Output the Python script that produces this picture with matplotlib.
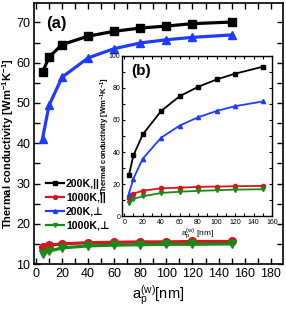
"""Thermal conductivity vs a_p^(w): main panel (a) with inset (b)."""

import matplotlib

matplotlib.use("Agg")
import matplotlib.pyplot as plt  # noqa: E402
from matplotlib.ticker import MultipleLocator  # noqa: E402

plt.rcParams["font.family"] = ["Liberation Sans", "DejaVu Sans"]
plt.rcParams["mathtext.fontset"] = "custom"
plt.rcParams["mathtext.rm"] = "Liberation Sans"
plt.rcParams["mathtext.it"] = "Liberation Sans"
plt.rcParams["mathtext.bf"] = "Liberation Sans:bold"

# main panel (a)
x_nm = [5, 10, 20, 40, 60, 80, 100, 120, 150]
k200_par = [57.6, 61.4, 64.5, 66.6, 67.8, 68.6, 69.1, 69.7, 70.1]
k1000_par = [14.2, 14.7, 15.0, 15.3, 15.4, 15.5, 15.5, 15.6, 15.6]
k200_perp = [41.1, 49.4, 56.4, 61.2, 63.5, 64.9, 65.7, 66.3, 66.9]
k1000_perp = [12.4, 13.2, 14.0, 14.5, 14.7, 14.8, 14.9, 14.9, 15.0]

# inset (b)
x_in = [5, 10, 20, 40, 60, 80, 100, 120, 150]
in200_par = [25.6, 38.0, 51.0, 65.6, 74.8, 80.6, 85.2, 88.8, 93.1]
in1000_par = [11.7, 14.2, 16.0, 17.5, 17.9, 18.4, 18.6, 18.8, 19.0]
in200_perp = [14.2, 23.6, 35.9, 49.0, 56.5, 61.7, 65.6, 68.6, 71.5]
in1000_perp = [8.3, 11.0, 12.5, 14.6, 15.4, 15.9, 16.3, 16.7, 16.9]

labels = ["200K,||", "1000K,||", "200K,\u22a5", "1000K,\u22a5"]

BLACK = "#000000"
RED = "#d8141c"
BLUE = "#1e3cff"
GREEN = "#178a17"

fig = plt.figure(figsize=(2.86, 3.11), dpi=100)
ax = fig.add_axes([0.119, 0.151, 0.871, 0.839])

series = [
    (k200_par, BLACK, "s", labels[0]),
    (k1000_par, RED, "o", labels[1]),
    (k200_perp, BLUE, "^", labels[2]),
    (k1000_perp, GREEN, "v", labels[3]),
]
for ys, c, m, lab in series:
    ax.plot(x_nm, ys, color=c, marker=m, markersize=5.5, linewidth=2.3, label=lab)

ax.set_xlim(-1.5, 189.5)
ax.set_ylim(10, 74.8)
ax.xaxis.set_major_locator(MultipleLocator(20))
ax.xaxis.set_minor_locator(MultipleLocator(10))
ax.yaxis.set_major_locator(MultipleLocator(10))
ax.yaxis.set_minor_locator(MultipleLocator(5))
ax.tick_params(which="both", direction="in", top=True, right=True, labelsize=9,
               width=1, length=4, pad=2.5)
for s in ax.spines.values():
    s.set_linewidth(1.2)
ax.set_ylabel(r"Thermal conductivity [Wm$^{\mathbf{-1}}$K$^{\mathbf{-1}}$]",
              fontsize=8, fontweight="bold")
ax.yaxis.set_label_coords(-0.074, 0.46)
ax.set_xlabel(r"a$_\mathrm{p}^\mathrm{(w)}$[nm]", fontsize=10.5, labelpad=3)

ax.text(0.05, 0.95, "(a)", transform=ax.transAxes, fontsize=12,
        fontweight="bold", va="top", ha="left")

leg = ax.legend(loc="upper left", bbox_to_anchor=(0.048, 0.327), frameon=False,
                markerscale=0.5, handlelength=1.7, handletextpad=0.2,
                labelspacing=0.38, borderaxespad=0.0, borderpad=0.0,
                prop={"weight": "bold", "size": 7.6})
for h in leg.legend_handles:
    h.set_linewidth(1.6)

# inset (b)
ins = fig.add_axes([0.428, 0.304, 0.523, 0.517])
inset_series = [
    (in200_par, BLACK, "s"),
    (in1000_par, RED, "o"),
    (in200_perp, BLUE, "^"),
    (in1000_perp, GREEN, "v"),
]
for ys, c, m in inset_series:
    ins.plot(x_in, ys, color=c, marker=m, markersize=3, linewidth=1.3)

ins.set_xlim(-2, 160)
ins.set_ylim(0, 100)
ins.xaxis.set_major_locator(MultipleLocator(20))
ins.xaxis.set_minor_locator(MultipleLocator(10))
ins.yaxis.set_major_locator(MultipleLocator(20))
ins.yaxis.set_minor_locator(MultipleLocator(10))
ins.tick_params(which="both", direction="in", top=True, right=True, labelsize=5,
                length=2.5, width=0.8, pad=1.5)
for s in ins.spines.values():
    s.set_linewidth(1.0)
ins.set_ylabel(r"Thermal conductivity [Wm$^{\mathbf{-1}}$K$^{\mathbf{-1}}$]",
               fontsize=5.5, fontweight="bold")
ins.yaxis.set_label_coords(-0.068, 0.5)
ins.set_xlabel(r"a$_\mathrm{p}^\mathrm{(w)}$ [nm]", fontsize=6, labelpad=1)
ins.text(0.06, 0.95, "(b)", transform=ins.transAxes, fontsize=11,
         fontweight="bold", va="top", ha="left")

fig.savefig("out.png", dpi=100)
plt.close(fig)
